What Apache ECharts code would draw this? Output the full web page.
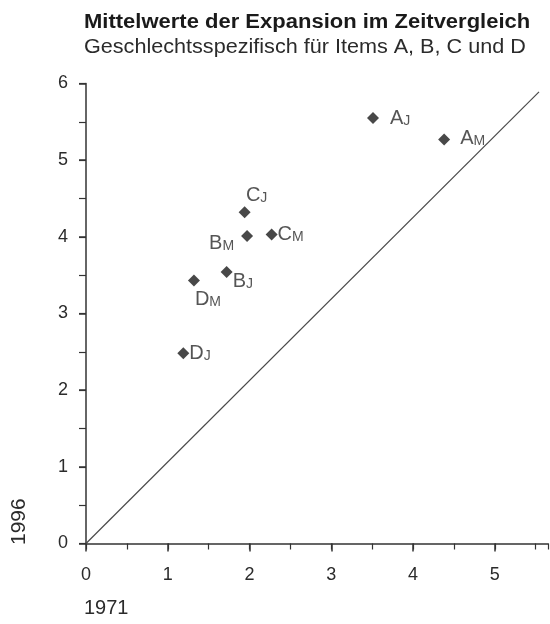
<!DOCTYPE html>
<html>
<head>
<meta charset="utf-8">
<script src="https://cdn.jsdelivr.net/npm/echarts@6/dist/echarts.min.js"></script>
<style>
  html, body { margin: 0; padding: 0; background: #fff; }
  #chart { width: 550px; height: 624px; }
</style>
</head>
<body>
<div id="chart"></div>
<script>
// Mean expansion values per item and sex: 1971 (x) vs. 1996 (y)
const pointIds   = ['AJ', 'AM', 'CJ', 'BM', 'CM', 'BJ', 'DM', 'DJ'];
const itemLetter = ['A', 'A', 'C', 'B', 'C', 'B', 'D', 'D'];
const sexLetter  = ['J', 'M', 'J', 'M', 'M', 'J', 'M', 'J'];
const values1971 = [3.51, 4.38, 1.94, 1.97, 2.27, 1.72, 1.32, 1.19];
const values1996 = [5.55, 5.27, 4.32, 4.01, 4.03, 3.54, 3.43, 2.48];

// Reference diagonal drawn across the plot
const diagonalX = [0, 5.54];
const diagonalY = [0, 5.89];

const xTicks = [0, 1, 2, 3, 4, 5];
const yTicks = [0, 1, 2, 3, 4, 5, 6];

const titleText    = 'Mittelwerte der Expansion im Zeitvergleich';
const subtitleText = 'Geschlechtsspezifisch für Items A, B, C und D';
const xAxisName    = '1971';
const yAxisName    = '1996';

// Label placement around each marker
const labelPlacement = {
  AJ: { position: 'right',  distance: 11, offset: [0, -1] },
  AM: { position: 'right',  distance: 10, offset: [0, -2] },
  CJ: { position: 'top',    distance: 1,  offset: [12, 0] },
  BM: { position: 'left',   distance: 7,  offset: [0, 6] },
  CM: { position: 'right',  distance: 0,  offset: [0, -1] },
  BJ: { position: 'right',  distance: 0,  offset: [0, 8] },
  DM: { position: 'bottom', distance: 1,  offset: [14, 0] },
  DJ: { position: 'right',  distance: 0,  offset: [0, -1] }
};

const FONT = '"Liberation Sans", Arial, sans-serif';
const INK = '#1a1a1a';
const TEXT = '#2b2b2b';

const points = pointIds.map((id, i) => ({
  name: id,
  value: [values1971[i], values1996[i]],
  label: Object.assign({
    show: true,
    formatter: '{b|' + itemLetter[i] + '}{s|' + sexLetter[i] + '}'
  }, labelPlacement[id])
}));

const GRID = { left: 86, top: 83.5, width: 462, height: 460 };
const X_MAX = 5.65;

const chart = echarts.init(document.getElementById('chart'), null, { renderer: 'canvas' });

chart.setOption({
  animation: false,
  backgroundColor: '#fff',
  textStyle: { fontFamily: FONT },
  grid: GRID,
  xAxis: [
    {
      type: 'value', min: 0, max: X_MAX, interval: 1,
      axisLine: { show: true, onZero: false, lineStyle: { color: '#333', width: 1.5 } },
      axisTick: { show: true, inside: false, length: 8, lineStyle: { color: '#333', width: 1.5 },
        customValues: xTicks },
      axisLabel: { margin: 23, fontSize: 18, color: TEXT, fontFamily: FONT,
        customValues: xTicks },
      splitLine: { show: false }
    },
    {
      type: 'value', min: 0, max: X_MAX, interval: 0.5,
      axisLine: { show: false },
      axisTick: { show: true, inside: true, length: 6, lineStyle: { color: '#333', width: 1.2 } },
      axisLabel: { show: false },
      splitLine: { show: false }
    }
  ],
  yAxis: [
    {
      type: 'value', min: 0, max: 6, interval: 1,
      axisLine: { show: true, onZero: false, lineStyle: { color: '#333', width: 1.5 } },
      axisTick: { show: true, inside: false, length: 7, lineStyle: { color: '#333', width: 1.5 },
        customValues: yTicks },
      axisLabel: { margin: 18, fontSize: 18, color: TEXT, fontFamily: FONT,
        customValues: yTicks },
      splitLine: { show: false }
    },
    {
      type: 'value', min: 0, max: 6, interval: 0.5,
      axisLine: { show: false },
      axisTick: { show: true, inside: true, length: 7, lineStyle: { color: '#333', width: 1.2 } },
      axisLabel: { show: false },
      splitLine: { show: false }
    }
  ],
  series: [
    {
      name: 'Diagonale',
      type: 'line',
      xAxisIndex: 0, yAxisIndex: 0,
      data: diagonalX.map((x, i) => [x, diagonalY[i]]),
      symbol: 'none',
      lineStyle: { color: '#4a4a4a', width: 1.2 },
      silent: true
    },
    {
      name: 'Mittelwerte',
      type: 'scatter',
      xAxisIndex: 0, yAxisIndex: 0,
      symbol: 'diamond',
      symbolSize: 12,
      itemStyle: { color: INK },
      data: points,
      label: {
        show: true,
        color: TEXT,
        fontFamily: FONT,
        rich: {
          b: { fontSize: 20, fontFamily: FONT, color: TEXT, lineHeight: 22, verticalAlign: 'bottom' },
          s: { fontSize: 14, fontFamily: FONT, color: TEXT, lineHeight: 22, verticalAlign: 'bottom',
               padding: [6, 0, 0, 0] }
        }
      }
    }
  ],
  graphic: [
    { type: 'text', x: 84, y: 12, scaleX: 1.1,
      style: { text: titleText, font: 'bold 20px ' + FONT, fill: INK } },
    { type: 'text', x: 84, y: 37, scaleX: 1.08,
      style: { text: subtitleText, font: '20px ' + FONT, fill: TEXT } },
    { type: 'text', x: 9, y: 545, rotation: Math.PI / 2,
      style: { text: yAxisName, font: '21px ' + FONT, fill: TEXT } },
    { type: 'text', x: 84, y: 598,
      style: { text: xAxisName, font: '20px ' + FONT, fill: TEXT } }
  ]
});
</script>
</body>
</html>
